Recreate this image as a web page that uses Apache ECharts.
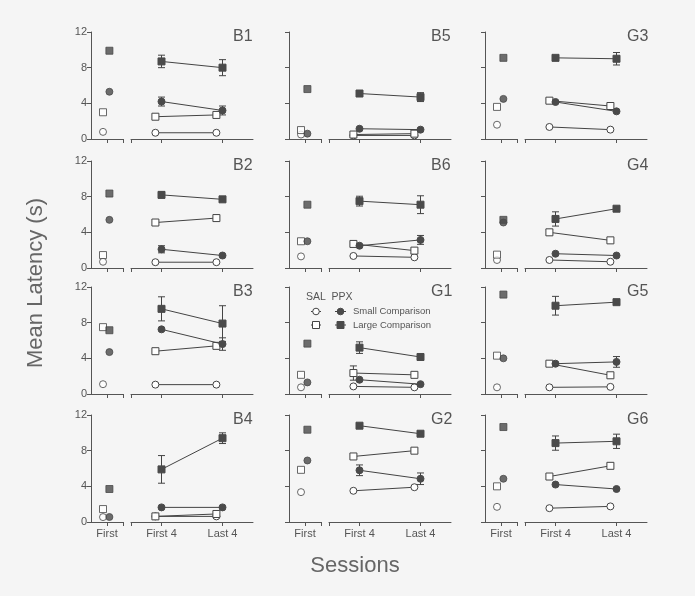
<!DOCTYPE html>
<html><head><meta charset="utf-8">
<script src="https://cdn.jsdelivr.net/npm/echarts@6/dist/echarts.min.js"></script>
<style>html,body{margin:0;padding:0;background:#f5f5f5}#c{width:695px;height:596px}</style>
</head><body><div id="c"></div>
<script>
// Panels in reading order (rows top→bottom, columns left→right)
const panelNames = ['B1','B5','G3','B2','B6','G4','B3','G1','G5','B4','G2','G6'];
const sessionLabels = ['First','First 4','Last 4'];
const yTicks = [0,4,8,12];
// Values per panel: [First, First 4, Last 4]
const salSmall = [[0.8,0.7,0.7],[0.5,0.4,0.4],[1.6,1.35,1.05],[0.7,0.65,0.65],[1.3,1.35,1.2],[0.9,0.9,0.7],[1.1,1.05,1.05],[0.75,0.85,0.75],[0.75,0.75,0.8],[0.55,0.63,0.63],[3.35,3.5,3.9],[1.7,1.55,1.75]];
const salLarge = [[3.0,2.5,2.7],[1.0,0.5,0.6],[3.6,4.3,3.7],[1.45,5.1,5.6],[3.0,2.7,1.95],[1.5,4.0,3.1],[7.5,4.8,5.4],[2.15,2.35,2.15],[4.3,3.4,2.1],[1.45,0.63,0.9],[5.85,7.35,8.0],[4.0,5.1,6.3]];
const ppxSmall = [[5.3,4.2,3.2],[0.6,1.15,1.05],[4.5,4.15,3.1],[5.4,2.1,1.4],[3.0,2.5,3.15],[5.1,1.6,1.4],[4.7,7.25,5.6],[1.3,1.6,1.1],[4.0,3.4,3.6],[0.56,1.64,1.64],[6.9,5.8,4.85],[4.85,4.2,3.7]];
const ppxLarge = [[9.9,8.7,8.0],[5.6,5.1,4.7],[9.1,9.1,9.0],[8.35,8.2,7.7],[7.1,7.5,7.1],[5.4,5.5,6.65],[7.15,9.55,7.9],[5.65,5.2,4.15],[11.15,9.9,10.3],[3.7,5.9,9.4],[10.35,10.8,9.9],[10.65,8.85,9.05]];
// Error bars (SEM) per panel: [First, First 4, Last 4]
const salSmallErr = [[0,0,0],[0,0,0],[0,0,0],[0,0,0],[0,0,0],[0,0,0],[0,0,0],[0,0,0],[0,0,0],[0,0,0],[0,0,0],[0,0,0]];
const salLargeErr = [[0,0,0.2],[0,0,0],[0,0.2,0.2],[0,0,0],[0,0,0],[0,0.3,0],[0,0,0],[0,0.8,0],[0,0,0],[0,0,0],[0,0,0.2],[0,0,0.3]];
const ppxSmallErr = [[0,0.5,0.5],[0,0,0],[0,0,0],[0,0.4,0],[0,0,0.5],[0,0,0],[0,0,0.7],[0,0,0],[0,0,0.6],[0,0,0],[0,0.6,0.65],[0,0,0]];
const ppxLargeErr = [[0,0.7,0.9],[0,0.25,0.5],[0,0,0.7],[0,0.35,0],[0,0.55,1.0],[0,0.8,0],[0,1.35,2.0],[0,0.65,0],[0,1.05,0],[0,1.55,0.6],[0,0,0],[0,0.8,0.8]];

const FONT = 'Liberation Sans, Arial, sans-serif';
const AX = '#555';
const DARK = '#444';
const colLeft = [91, 289, 485];
const rowTop = [32, 161, 287, 415];
const gridH = 107;
const aW = 32, gap = 8, bW = 122;
const SAL_A = 0.75, PPX_A = 1.15, SAL_OFF = -0.2;

const grids = [], xAxes = [], yAxes = [], series = [], graphics = [];

function renderErr(params, api) {
  const x = api.value(0), y = api.value(1), e = api.value(2);
  const t = api.coord([x, y + e]), b = api.coord([x, y - e]);
  const w = 3.5;
  const style = {stroke: DARK, lineWidth: 1};
  return {type: 'group', children: [
    {type: 'line', shape: {x1: t[0], y1: t[1], x2: b[0], y2: b[1]}, style},
    {type: 'line', shape: {x1: t[0]-w, y1: t[1], x2: t[0]+w, y2: t[1]}, style},
    {type: 'line', shape: {x1: b[0]-w, y1: b[1], x2: b[0]+w, y2: b[1]}, style}
  ]};
}

const kinds = [
  {vals: salSmall, err: salSmallErr, sym: 'circle', open: true, sal: true, size: 7},
  {vals: salLarge, err: salLargeErr, sym: 'rect', open: true, sal: true, size: 7},
  {vals: ppxSmall, err: ppxSmallErr, sym: 'circle', open: false, sal: false, size: 7},
  {vals: ppxLarge, err: ppxLargeErr, sym: 'rect', open: false, sal: false, size: 7}
];

panelNames.forEach((name, p) => {
  const r = Math.floor(p / 3), c = p % 3;
  const top = rowTop[r];
  const leftA = colLeft[c], leftB = colLeft[c] + aW + gap;
  const gA = grids.length;
  grids.push({left: leftA, top: top, width: aW, height: gridH});
  grids.push({left: leftB, top: top, width: bW, height: gridH});
  const bottomRow = r === 3;
  const xCommon = {
    type: 'value', splitLine: {show: false},
    axisLine: {show: true, onZero: false, lineStyle: {color: AX, width: 1}},
    axisTick: {show: true, length: 4, lineStyle: {color: AX}},
    axisLabel: {show: bottomRow, color: AX, fontSize: 11, fontFamily: FONT, margin: 6}
  };
  xAxes.push(Object.assign({}, xCommon, {gridIndex: gA, min: 0, max: 2,
    axisTick: Object.assign({}, xCommon.axisTick, {customValues: [1, 2]}),
    axisLabel: Object.assign({}, xCommon.axisLabel, {customValues: [1], formatter: v => v === 1 ? sessionLabels[0] : ''})
  }));
  xAxes.push(Object.assign({}, xCommon, {gridIndex: gA + 1, min: 0, max: 4,
    axisTick: Object.assign({}, xCommon.axisTick, {customValues: [0, 1, 3]}),
    axisLabel: Object.assign({}, xCommon.axisLabel, {customValues: [1, 3], formatter: v => v === 1 ? sessionLabels[1] : (v === 3 ? sessionLabels[2] : '')})
  }));
  yAxes.push({type: 'value', gridIndex: gA, min: 0, max: 12, interval: 4, splitLine: {show: false},
    axisLine: {show: true, lineStyle: {color: AX, width: 1}},
    axisTick: {show: true, length: 4, lineStyle: {color: AX}},
    axisLabel: {show: c === 0, color: AX, fontSize: 11, fontFamily: FONT, margin: 4,
      formatter: v => yTicks.includes(v) ? String(v) : ''}
  });
  yAxes.push({type: 'value', gridIndex: gA + 1, min: 0, max: 12, interval: 4, show: false, splitLine: {show: false}});

  const errData = [];
  kinds.forEach(k => {
    const v = k.vals[p], e = k.err[p];
    const item = k.open
      ? {color: '#fff', borderColor: DARK, borderWidth: 1}
      : {color: '#4a4a4a', borderColor: '#4a4a4a', borderWidth: 1};
    series.push({type: 'scatter', xAxisIndex: gA, yAxisIndex: gA, symbol: k.sym, symbolSize: k.size,
      itemStyle: item, z: k.open ? 3 : 4, silent: true,
      data: [[k.sal ? SAL_A : PPX_A, v[0]]]});
    const off = k.sal ? SAL_OFF : 0;
    series.push({type: 'line', xAxisIndex: gA + 1, yAxisIndex: gA + 1, symbol: k.sym, symbolSize: k.size,
      showSymbol: true, itemStyle: item, lineStyle: {color: DARK, width: 1}, z: k.open ? 3 : 4, silent: true,
      animation: false, data: [[1 + off, v[1]], [3 + off, v[2]]]});
    [1, 2].forEach(i => { if (e[i] > 0) errData.push([2 * i - 1 + off, v[i], e[i]]); });
  });
  series.push({type: 'custom', xAxisIndex: gA + 1, yAxisIndex: gA + 1, renderItem: renderErr, data: errData, z: 2, silent: true});

  graphics.push({type: 'text', left: leftB + 102, top: top - 3, style: {text: name, fontSize: 16, fontFamily: FONT, fill: AX, textAlign: 'center'}});
});

// axis titles
graphics.push({type: 'text', x: 36, y: 283, rotation: Math.PI / 2,
  style: {text: 'Mean Latency (s)', fontSize: 22, fontFamily: FONT, fill: '#666', textAlign: 'center', textVerticalAlign: 'middle'}});
graphics.push({type: 'text', x: 355, y: 566,
  style: {text: 'Sessions', fontSize: 22, fontFamily: FONT, fill: '#666', textAlign: 'center', textVerticalAlign: 'middle'}});

// legend inside G1
const lg = [
  {type: 'text', x: 316, y: 297, style: {text: 'SAL', fontSize: 10.5, fontFamily: FONT, fill: AX, textAlign: 'center', textVerticalAlign: 'middle'}},
  {type: 'text', x: 342, y: 297, style: {text: 'PPX', fontSize: 10.5, fontFamily: FONT, fill: AX, textAlign: 'center', textVerticalAlign: 'middle'}},
  {type: 'line', shape: {x1: 311, y1: 311.5, x2: 321, y2: 311.5}, style: {stroke: DARK, lineWidth: 1}},
  {type: 'circle', shape: {cx: 316, cy: 311.5, r: 3.3}, style: {fill: '#fff', stroke: DARK, lineWidth: 1}},
  {type: 'line', shape: {x1: 335, y1: 311.5, x2: 346, y2: 311.5}, style: {stroke: DARK, lineWidth: 1}},
  {type: 'circle', shape: {cx: 340.5, cy: 311.5, r: 3.3}, style: {fill: '#4a4a4a', stroke: '#4a4a4a', lineWidth: 1}},
  {type: 'text', x: 353, y: 311.5, style: {text: 'Small Comparison', fontSize: 9.5, fontFamily: FONT, fill: AX, textVerticalAlign: 'middle'}},
  {type: 'line', shape: {x1: 311, y1: 325, x2: 321, y2: 325}, style: {stroke: DARK, lineWidth: 1}},
  {type: 'rect', shape: {x: 312.5, y: 321.5, width: 7, height: 7}, style: {fill: '#fff', stroke: DARK, lineWidth: 1}},
  {type: 'line', shape: {x1: 335, y1: 325, x2: 346, y2: 325}, style: {stroke: DARK, lineWidth: 1}},
  {type: 'rect', shape: {x: 337, y: 321.5, width: 7, height: 7}, style: {fill: '#4a4a4a', stroke: '#4a4a4a', lineWidth: 1}},
  {type: 'text', x: 353, y: 325, style: {text: 'Large Comparison', fontSize: 9.5, fontFamily: FONT, fill: AX, textVerticalAlign: 'middle'}}
];
lg.forEach(g => graphics.push(Object.assign({z: 100}, g)));

const chart = echarts.init(document.getElementById('c'), null, {renderer: 'canvas'});
chart.setOption({
  backgroundColor: '#f5f5f5',
  animation: false,
  grid: grids, xAxis: xAxes, yAxis: yAxes, series: series,
  graphic: graphics
});
</script></body></html>
